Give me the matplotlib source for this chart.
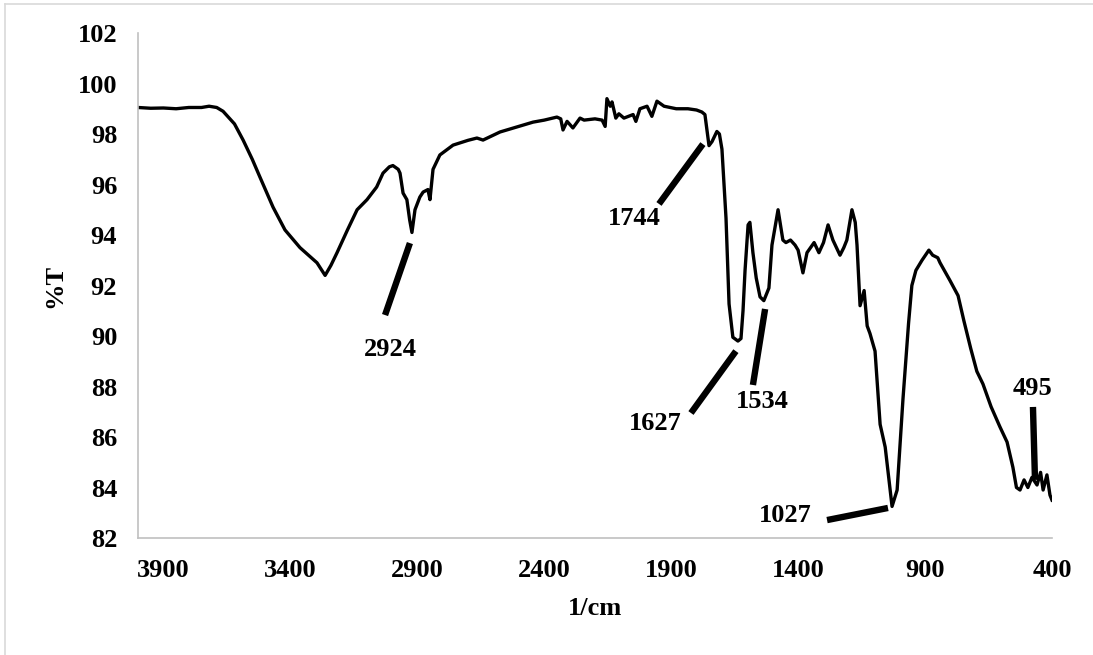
import matplotlib
matplotlib.use('Agg')
import matplotlib.pyplot as plt
from matplotlib.lines import Line2D

# FTIR spectrum (wavenumber in 1/cm, transmittance in %)
wavenumber = [4000, 3950, 3900, 3850, 3800, 3750, 3720, 3690, 3665, 3620,
              3586, 3550, 3520, 3468, 3421, 3362, 3295, 3263, 3240, 3216,
              3175, 3137, 3098, 3060, 3035, 3010, 2996, 2975, 2968, 2956,
              2941, 2930, 2921, 2909, 2890, 2877, 2858, 2850, 2838, 2811,
              2759, 2700, 2665, 2641, 2574, 2500, 2444, 2400, 2350, 2335,
              2326, 2310, 2287, 2259, 2243, 2200, 2172, 2160, 2153, 2140,
              2133, 2118, 2106, 2086, 2050, 2039, 2023, 1995, 1976, 1956,
              1928, 1880, 1834, 1800, 1779, 1767, 1751, 1739, 1720, 1710,
              1700, 1692, 1684, 1672, 1657, 1637, 1625, 1617, 1609, 1597,
              1590, 1578, 1565, 1550, 1535, 1515, 1503, 1479, 1460, 1448,
              1430, 1412, 1400, 1381, 1365, 1337, 1318, 1300, 1282, 1263,
              1235, 1220, 1208, 1188, 1175, 1168, 1156, 1140, 1128, 1117,
              1097, 1077, 1057, 1030, 1010, 987, 965, 952, 936, 912,
              885, 870, 850, 841, 802, 770, 747, 720, 696, 672,
              640, 605, 577, 554, 540, 526, 510, 495, 479, 459,
              445, 435, 420, 408, 400]
transmittance = [99.05, 99.02, 99.03, 99.0, 99.05, 99.05, 99.1, 99.05, 98.9, 98.4,
                 97.76, 97.0, 96.3, 95.1, 94.2, 93.5, 92.9, 92.4, 92.8, 93.3,
                 94.2, 95.0, 95.4, 95.9, 96.45, 96.7, 96.75, 96.6, 96.45, 95.66,
                 95.4, 94.6, 94.1, 95.0, 95.5, 95.7, 95.8, 95.4, 96.6, 97.17,
                 97.56, 97.75, 97.84, 97.76, 98.08, 98.3, 98.47, 98.55, 98.67, 98.6,
                 98.16, 98.5, 98.24, 98.63, 98.55, 98.6, 98.55, 98.3, 99.4, 99.1,
                 99.27, 98.63, 98.8, 98.63, 98.77, 98.5, 99.0, 99.1, 98.7, 99.3,
                 99.1, 99.0, 99.0, 98.95, 98.87, 98.77, 97.54, 97.7, 98.1, 98.0,
                 97.4, 96.0, 94.67, 91.27, 89.95, 89.8, 89.9, 91.0, 92.6, 94.4,
                 94.5, 93.3, 92.3, 91.55, 91.4, 91.9, 93.6, 95.0, 93.8, 93.7,
                 93.8, 93.6, 93.4, 92.5, 93.3, 93.7, 93.3, 93.7, 94.4, 93.8,
                 93.2, 93.5, 93.8, 95.0, 94.5, 93.6, 91.2, 91.8, 90.4, 90.1,
                 89.4, 86.5, 85.6, 83.25, 83.9, 87.5, 90.5, 92.0, 92.6, 93.0,
                 93.4, 93.2, 93.1, 92.9, 92.2, 91.6, 90.6, 89.5, 88.6, 88.1,
                 87.2, 86.4, 85.8, 84.8, 84.0, 83.9, 84.3, 84.0, 84.4, 84.1,
                 84.6, 83.9, 84.5, 83.7, 83.5]

x_ticks = [3900, 3400, 2900, 2400, 1900, 1400, 900, 400]
y_ticks = [82, 84, 86, 88, 90, 92, 94, 96, 98, 100, 102]

# peak labels: text, line from (x1, y1) to (x2, y2), text at (tx, ty)
peak_labels = [
    ('2924', (2929, 93.68), (3027, 90.83), (3007, 89.45)),
    ('1744', (1775, 97.6), (1948, 95.23), (2046, 94.67)),
    ('1627', (1645, 89.4), (1822, 86.95), (1964, 86.55)),
    ('1534', (1530, 91.07), (1578, 88.06), (1542, 87.4)),
    ('1027', (1046, 83.19), (1286, 82.71), (1452, 82.91)),
    ('495', (475, 87.19), (467, 84.3), (475, 87.94)),
]

plt.rcParams['font.family'] = ['Liberation Serif', 'DejaVu Serif']
plt.rcParams['font.weight'] = 'bold'
fs = 19

fig = plt.figure(figsize=(10.93, 6.55), dpi=100)
ax = fig.add_axes([138 / 1093, 117 / 655, 914 / 1093, 505 / 655])

ax.plot(wavenumber, transmittance, color='black', lw=2.4, solid_joinstyle='round')

for label, p1, p2, pt in peak_labels:
    ax.plot([p1[0], p2[0]], [p1[1], p2[1]], color='black', lw=4.6,
            solid_capstyle='butt')
    ax.text(pt[0], pt[1], label, ha='center', va='center', fontsize=fs,
            fontweight='bold')

ax.set_xlim(4000, 400)
ax.set_ylim(82, 102)
ax.set_xticks(x_ticks)
ax.set_yticks(y_ticks)
ax.tick_params(length=0, labelsize=fs)
ax.tick_params(axis='y', pad=15)
ax.tick_params(axis='x', pad=15)
for s in ['top', 'right']:
    ax.spines[s].set_visible(False)
for s in ['left', 'bottom']:
    ax.spines[s].set_color('#c0c0c0')
    ax.spines[s].set_linewidth(1.2)

ax.set_xlabel('1/cm', fontsize=fs, fontweight='bold')
ax.set_ylabel('%T', fontsize=fs, fontweight='bold')
ax.xaxis.set_label_coords(0.5, -0.117)
ax.yaxis.set_label_coords(-0.079, 0.5)

# chart frame like the spreadsheet export
fig.add_artist(Line2D([5 / 1093, 1], [1 - 4 / 655] * 2, color='#d9d9d9', lw=1.2))
fig.add_artist(Line2D([5 / 1093] * 2, [0, 1 - 4 / 655], color='#d9d9d9', lw=1.2))

fig.savefig('out.png', dpi=100)
